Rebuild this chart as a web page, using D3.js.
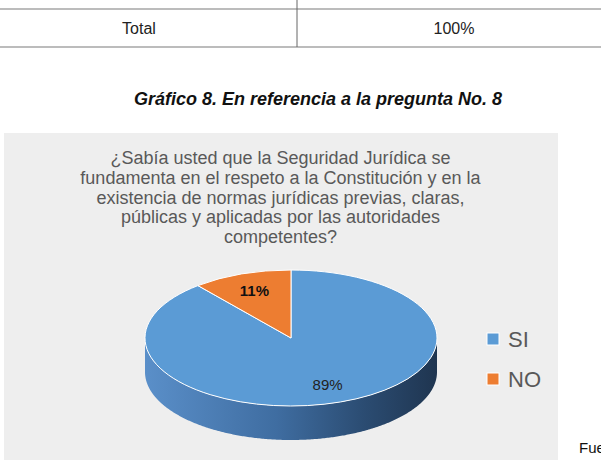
<!DOCTYPE html>
<meta charset="utf-8">
<style>
body { margin: 0; background: #fff; }
text { font-family: "Liberation Sans", Arial, sans-serif; }
</style>
<script src="https://d3js.org/d3.v7.min.js"></script>
<body>
<div id="chart"></div>
</body>
<script>

// data
var categorias = ["SI", "NO"];
var valores = [89, 11];
var etiquetas = ["89%", "11%"];
var colores = ["#5b9bd5", "#ed7d31"];
var titulo = ["¿Sabía usted que la Seguridad Jurídica se",
              "fundamenta en el respeto a la Constitución y en la",
              "existencia de normas jurídicas previas, claras,",
              "públicas y aplicadas por las autoridades",
              "competentes?"];
var tablaFila = ["Total", "100%"];

var W = 601, H = 471;
var svg = d3.select("#chart").append("svg")
    .attr("width", W)
    .attr("height", H);

// table remnant at the top
svg.append("line").attr("x1", 0).attr("x2", W).attr("y1", 9).attr("y2", 9)
    .style("stroke", "#a6a6a6").style("stroke-width", 1.5);
svg.append("line").attr("x1", 0).attr("x2", W).attr("y1", 47).attr("y2", 47)
    .style("stroke", "#a6a6a6").style("stroke-width", 1.5);
svg.append("line").attr("x1", 297).attr("x2", 297).attr("y1", 0).attr("y2", 47)
    .style("stroke", "#666").style("stroke-width", 1);
svg.selectAll(".celda").data(tablaFila).enter().append("text")
    .attr("x", function(d, i) { return i == 0 ? 139 : 454; })
    .attr("y", 34)
    .attr("text-anchor", "middle")
    .style("font-size", "16px")
    .style("fill", "#222")
    .text(function(d) { return d; });

// caption
svg.append("text")
    .attr("x", 318).attr("y", 105)
    .attr("text-anchor", "middle")
    .style("font-size", "18px")
    .style("font-weight", "bold")
    .style("font-style", "italic")
    .style("fill", "#111")
    .text("Gráfico 8. En referencia a la pregunta No. 8");

// chart area
svg.append("rect")
    .attr("x", 4).attr("y", 133)
    .attr("width", 554).attr("height", 327)
    .style("fill", "#eeeeee");

svg.append("text")
    .attr("x", 579).attr("y", 453)
    .style("font-size", "15px")
    .style("fill", "#111")
    .text("Fuente");

// title
svg.selectAll(".titulo").data(titulo).enter().append("text")
    .attr("x", 280.5)
    .attr("y", function(d, i) { return 164 + i * 19.8; })
    .attr("text-anchor", "middle")
    .style("font-size", "18px")
    .style("fill", "#595959")
    .text(function(d) { return d; });

// 3D pie
var cx = 291, cy = 338, rx = 146, ry = 68, depth = 34;
var pie = d3.pie().sort(null).value(function(d) { return d; });
var arcs = pie(valores);

var defs = svg.append("defs");
var grad = defs.append("linearGradient")
    .attr("id", "lado")
    .attr("gradientUnits", "userSpaceOnUse")
    .attr("x1", cx - rx).attr("x2", cx + rx)
    .attr("y1", 0).attr("y2", 0);
grad.append("stop").attr("offset", "0").attr("stop-color", "#5a8fc9");
grad.append("stop").attr("offset", "0.45").attr("stop-color", "#3f6da1");
grad.append("stop").attr("offset", "0.75").attr("stop-color", "#2b4c72");
grad.append("stop").attr("offset", "1").attr("stop-color", "#1f3550");

function px(a) { return cx + rx * Math.sin(a); }
function py(a) { return cy - ry * Math.cos(a); }

// side wall: visible front half of each slice
arcs.forEach(function(d, i) {
  var a0 = Math.max(d.startAngle, Math.PI / 2),
      a1 = Math.min(d.endAngle, 3 * Math.PI / 2);
  if (a1 <= a0) return;
  var angs = d3.range(a0, a1, 0.01).concat([a1]);
  var top = angs.map(function(a) { return [px(a), py(a)]; });
  var bot = angs.slice().reverse().map(function(a) { return [px(a), py(a) + depth]; });
  svg.append("path")
      .attr("d", d3.line()(top.concat(bot)) + "Z")
      .style("fill", i == 0 ? "url(#lado)" : d3.color(colores[i]).darker(1))
      .style("stroke", "none");
});

// top face
var arc = d3.arc().innerRadius(0).outerRadius(rx);
svg.append("g")
    .attr("transform", "translate(" + cx + "," + cy + ") scale(1," + (ry / rx) + ")")
  .selectAll("path").data(arcs).enter().append("path")
    .attr("d", arc)
    .style("fill", function(d, i) { return colores[i]; })
    .style("stroke", "#fff")
    .style("stroke-width", 1)
    .attr("vector-effect", "non-scaling-stroke");

// labels
svg.selectAll(".lbl").data(arcs).enter().append("text")
    .attr("x", function(d) { var a = (d.startAngle + d.endAngle) / 2; return cx + rx * 0.74 * Math.sin(a); })
    .attr("y", function(d) { var a = (d.startAngle + d.endAngle) / 2; return cy - ry * 0.74 * Math.cos(a) + 5; })
    .attr("text-anchor", "middle")
    .style("font-size", "15px")
    .style("font-weight", function(d, i) { return i == 1 ? "bold" : "normal"; })
    .style("fill", function(d, i) { return i == 1 ? "#111" : "#222"; })
    .text(function(d, i) { return etiquetas[i]; });

// legend
var leg = svg.selectAll(".leg").data(categorias).enter().append("g")
    .attr("transform", function(d, i) { return "translate(487," + (333 + i * 40) + ")"; });
leg.append("rect")
    .attr("width", 12).attr("height", 12)
    .style("fill", function(d, i) { return colores[i]; })
    .style("stroke", "#fff").style("stroke-width", 1);
leg.append("text")
    .attr("x", 21).attr("y", 14)
    .style("font-size", "22px")
    .style("fill", "#595959")
    .text(function(d) { return d; });

</script>
